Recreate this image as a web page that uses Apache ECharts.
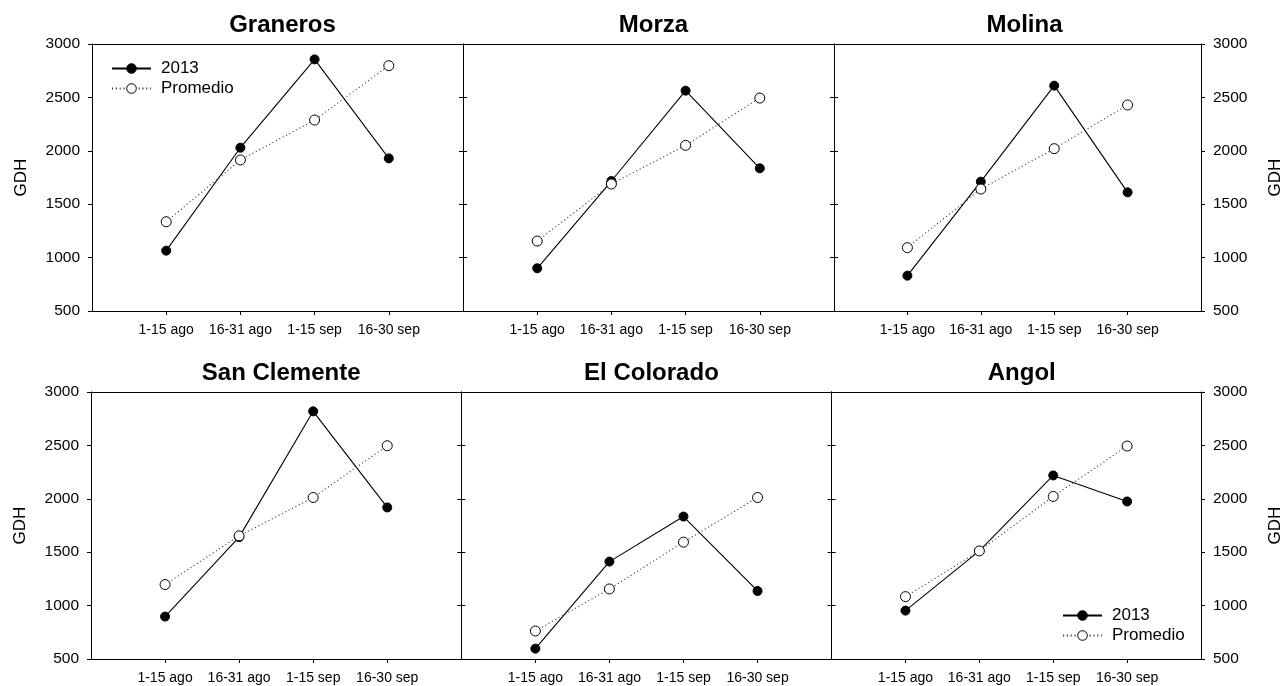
<!DOCTYPE html>
<html>
<head>
<meta charset="utf-8">
<script src="https://cdn.jsdelivr.net/npm/echarts@6/dist/echarts.min.js"></script>
<style>
  html, body { margin: 0; padding: 0; background: #fff; }
  #chart { width: 1285px; height: 686px; }
</style>
</head>
<body>
<div id="chart"></div>
<script>
// ---- data ----
const categories = ['1-15 ago', '16-31 ago', '1-15 sep', '16-30 sep'];
const stations = ['Graneros', 'Morza', 'Molina', 'San Clemente', 'El Colorado', 'Angol'];
const yTicks = [500, 1000, 1500, 2000, 2500, 3000];
const seriesNames = ['2013', 'Promedio'];

const graneros2013 = [1065, 2029, 2856, 1929];
const granerosProm = [1336, 1914, 2288, 2797];
const morza2013 = [900, 1717, 2563, 1836];
const morzaProm = [1155, 1689, 2051, 2494];
const molina2013 = [831, 1711, 2610, 1611];
const molinaProm = [1093, 1642, 2020, 2429];
const sanClemente2013 = [897, 1641, 2819, 1919];
const sanClementeProm = [1197, 1653, 2012, 2497];
const elColorado2013 = [597, 1412, 1834, 1137];
const elColoradoProm = [762, 1156, 1594, 2012];
const angol2013 = [953, 1512, 2219, 1975];
const angolProm = [1084, 1512, 2022, 2494];

const values2013 = [graneros2013, morza2013, molina2013, sanClemente2013, elColorado2013, angol2013];
const valuesProm = [granerosProm, morzaProm, molinaProm, sanClementeProm, elColoradoProm, angolProm];

// ---- layout ----
const FONT = 'Liberation Sans, Arial, sans-serif';
const rows = [
  { left: 92, width: 371, top: 44, height: 267 },
  { left: 91, width: 370.3, top: 392, height: 267 }
];
const axisData = [''].concat(categories, ['']);
const innerIdx = (idx) => idx >= 1 && idx <= categories.length;
const plain = (v) => String(v);

const grids = [], xAxes = [], yAxes = [], series = [], titles = [];
for (let i = 0; i < 6; i++) {
  const r = rows[Math.floor(i / 3)];
  const col = i % 3;
  const left = r.left + col * r.width;
  grids.push({ left: left, top: r.top, width: r.width, height: r.height, containLabel: false });
  titles.push({
    text: stations[i],
    left: left + r.width / 2,
    top: r.top - 36,
    textAlign: 'center',
    textStyle: { fontFamily: FONT, fontSize: 24, fontWeight: 'bold', color: '#000' }
  });
  const lineStyle = { color: '#000', width: 1 };
  xAxes.push({
    type: 'category', gridIndex: i, position: 'bottom', data: axisData, boundaryGap: false,
    axisLine: { show: true, onZero: false, lineStyle: lineStyle },
    axisTick: { show: true, interval: (idx) => innerIdx(idx), length: 4, lineStyle: lineStyle },
    axisLabel: { interval: (idx) => innerIdx(idx), fontFamily: FONT, fontSize: 14, color: '#000', margin: 12 },
    splitLine: { show: false }
  });
  xAxes.push({
    type: 'category', gridIndex: i, position: 'top', data: axisData, boundaryGap: false,
    axisLine: { show: true, onZero: false, lineStyle: lineStyle },
    axisTick: { show: false }, axisLabel: { show: false }, splitLine: { show: false }
  });
  const yBase = {
    type: 'value', gridIndex: i, min: yTicks[0], max: yTicks[yTicks.length - 1],
    interval: yTicks[1] - yTicks[0],
    axisLine: { show: true, onZero: false, lineStyle: lineStyle },
    axisTick: { show: true, length: 4, lineStyle: lineStyle },
    splitLine: { show: false },
    nameLocation: 'middle', nameRotate: 90,
    nameTextStyle: { fontFamily: FONT, fontSize: 17, color: '#000' }
  };
  yAxes.push(Object.assign({}, yBase, {
    position: 'left',
    name: col === 0 ? 'GDH' : '', nameGap: 62,
    axisLabel: { show: col === 0, formatter: plain, fontFamily: FONT, fontSize: 15.5, color: '#000', margin: 12 }
  }));
  yAxes.push(Object.assign({}, yBase, {
    position: 'right',
    name: col === 2 ? 'GDH' : '', nameGap: 66,
    axisLabel: { show: col === 2, formatter: plain, fontFamily: FONT, fontSize: 15.5, color: '#000', margin: 12 }
  }));
  series.push({
    name: seriesNames[0], type: 'line', xAxisIndex: 2 * i, yAxisIndex: 2 * i,
    data: categories.map((c, k) => [c, values2013[i][k]]),
    symbol: 'circle', symbolSize: 9,
    itemStyle: { color: '#000', borderColor: '#000', borderWidth: 1 },
    lineStyle: { color: '#000', width: 1.1, type: 'solid' },
    animation: false
  });
  series.push({
    name: seriesNames[1], type: 'line', xAxisIndex: 2 * i, yAxisIndex: 2 * i,
    data: categories.map((c, k) => [c, valuesProm[i][k]]),
    symbol: 'circle', symbolSize: 10,
    itemStyle: { color: '#fff', borderColor: '#000', borderWidth: 1 },
    lineStyle: { color: '#444', width: 1.1, type: [1.2, 2.6] },
    animation: false
  });
}

const legendBase = {
  data: seriesNames, orient: 'vertical', itemWidth: 39, itemHeight: 12, itemGap: 3,
  padding: 0, selectedMode: false,
  itemStyle: { borderWidth: 1 },
  textStyle: { fontFamily: FONT, fontSize: 17, color: '#000', padding: [0, 0, 0, 5] }
};

const option = {
  backgroundColor: '#fff',
  animation: false,
  title: titles,
  legend: [
    Object.assign({}, legendBase, { left: 111, top: 60 }),
    Object.assign({}, legendBase, { left: 1062, top: 607 })
  ],
  grid: grids,
  xAxis: xAxes,
  yAxis: yAxes,
  series: series
};

const chart = echarts.init(document.getElementById('chart'), null, { renderer: 'canvas' });
chart.setOption(option);
</script>
</body>
</html>
